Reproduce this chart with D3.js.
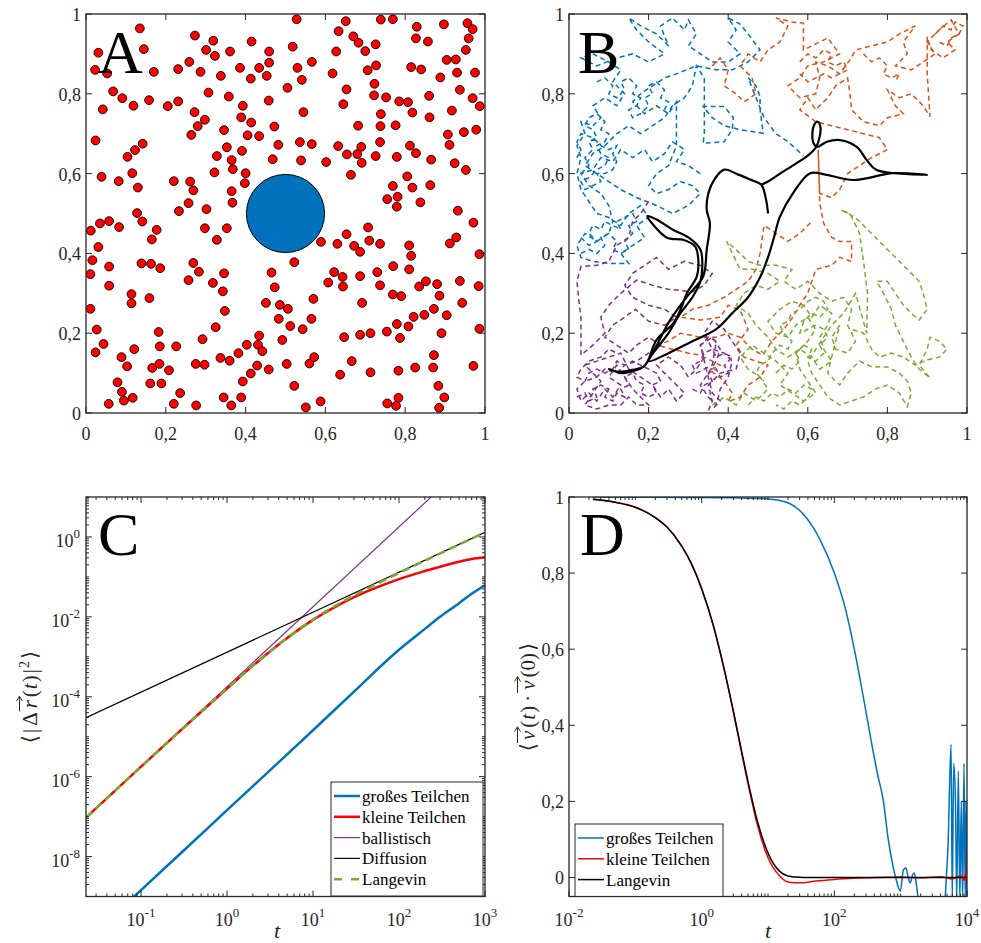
<!DOCTYPE html>
<html>
<head>
<meta charset="utf-8">
<script src="https://cdn.jsdelivr.net/npm/d3@7"></script>
<style>
  body { margin: 0; background: #fff; }
  svg { display: block; font-family: "Liberation Serif", "DejaVu Serif", serif; }
  text { font-family: "Liberation Serif", "DejaVu Serif", serif; fill: #262626; }
</style>
</head>
<body>
<svg id="fig" width="981" height="943" font-family="Liberation Serif, DejaVu Serif, serif"></svg>
<script>
// ---------------- panel A : particle positions ----------------
var smallParticles = [
[0.135,0.964],[0.273,0.946],[0.319,0.933],[0.415,0.931],[0.031,0.903],[0.145,0.912],[0.301,0.910],[0.323,0.895],[0.361,0.906],[0.459,0.906],[0.023,0.860],[0.053,0.851],[0.170,0.855],[0.231,0.862],[0.259,0.880],[0.287,0.855],[0.338,0.845],[0.386,0.865],[0.413,0.838],[0.434,0.865],[0.453,0.845],[0.459,0.878],[0.068,0.806],[0.091,0.789],[0.042,0.761],[0.119,0.770],[0.158,0.784],[0.205,0.769],[0.231,0.781],[0.307,0.803],[0.358,0.793],[0.393,0.770],[0.458,0.783],[0.272,0.754],[0.298,0.735],[0.280,0.719],[0.264,0.697],[0.346,0.709],[0.389,0.741],[0.414,0.728],[0.405,0.696],[0.434,0.694],[0.472,0.718],[0.024,0.683],[0.142,0.675],[0.123,0.659],[0.104,0.642],[0.353,0.666],[0.391,0.657],[0.482,0.672],[0.328,0.644],[0.365,0.634],[0.468,0.636],[0.368,0.611],[0.322,0.603],[0.400,0.601],[0.039,0.592],[0.082,0.581],[0.116,0.601],[0.130,0.565],[0.220,0.581],[0.261,0.580],[0.269,0.558],[0.365,0.556],[0.398,0.576],[0.367,0.527],[0.257,0.526],[0.302,0.511],[0.233,0.506],[0.128,0.501],
[0.012,0.457],[0.035,0.475],[0.058,0.481],[0.083,0.466],[0.141,0.480],[0.177,0.459],[0.165,0.435],[0.298,0.463],[0.353,0.463],[0.328,0.434],[0.031,0.416],[0.016,0.383],[0.011,0.348],[0.058,0.367],[0.139,0.375],[0.163,0.374],[0.186,0.363],[0.269,0.376],[0.283,0.354],[0.257,0.333],[0.318,0.326],[0.346,0.350],[0.343,0.305],[0.058,0.319],[0.114,0.298],[0.114,0.275],[0.159,0.288],[0.011,0.261],[0.348,0.256],[0.465,0.352],[0.473,0.315],[0.451,0.276],[0.486,0.271],[0.483,0.236],[0.027,0.209],[0.182,0.203],[0.325,0.215],[0.292,0.185],[0.434,0.194],[0.431,0.171],[0.442,0.155],[0.492,0.183],[0.403,0.171],[0.044,0.173],[0.024,0.152],[0.121,0.160],[0.185,0.167],[0.226,0.167],[0.089,0.140],[0.103,0.117],[0.166,0.113],[0.184,0.123],[0.208,0.107],[0.275,0.123],[0.297,0.121],[0.337,0.138],[0.360,0.131],[0.382,0.150],[0.429,0.119],[0.413,0.099],[0.458,0.109],[0.503,0.123],[0.393,0.079],[0.079,0.077],[0.090,0.053],[0.095,0.031],[0.117,0.038],[0.057,0.023],[0.161,0.074],[0.189,0.074],[0.236,0.050],[0.220,0.023],[0.276,0.019],[0.345,0.039],[0.364,0.019],[0.389,0.039],
[0.528,0.987],[0.651,0.982],[0.739,0.986],[0.769,0.987],[0.829,0.968],[0.897,0.974],[0.956,0.977],[0.969,0.962],[0.633,0.957],[0.670,0.944],[0.683,0.928],[0.726,0.924],[0.700,0.907],[0.827,0.939],[0.857,0.931],[0.959,0.939],[0.518,0.918],[0.627,0.906],[0.952,0.910],[0.566,0.880],[0.530,0.865],[0.727,0.871],[0.706,0.859],[0.618,0.851],[0.815,0.867],[0.840,0.861],[0.904,0.885],[0.927,0.886],[0.930,0.853],[0.975,0.853],[0.888,0.841],[0.541,0.835],[0.505,0.815],[0.653,0.811],[0.723,0.825],[0.937,0.810],[0.722,0.796],[0.752,0.791],[0.785,0.781],[0.807,0.779],[0.860,0.795],[0.969,0.789],[0.987,0.769],[0.645,0.774],[0.545,0.754],[0.739,0.749],[0.818,0.753],[0.861,0.741],[0.917,0.758],[0.682,0.720],[0.738,0.719],[0.776,0.721],[0.947,0.704],[0.978,0.710],[0.907,0.698],[0.911,0.672],[0.536,0.679],[0.566,0.674],[0.632,0.669],[0.690,0.667],[0.737,0.679],[0.812,0.670],[0.654,0.648],[0.680,0.649],[0.726,0.644],[0.827,0.651],[0.539,0.633],[0.602,0.629],[0.691,0.627],[0.779,0.642],[0.865,0.635],[0.924,0.626],[0.952,0.609],[0.664,0.597],[0.805,0.593],[0.769,0.569],[0.818,0.565],[0.863,0.571],[0.755,0.536],[0.781,0.542],[0.779,0.517],[0.838,0.528],[0.932,0.507],
[0.971,0.477],[0.707,0.465],[0.653,0.448],[0.710,0.432],[0.589,0.429],[0.630,0.424],[0.672,0.419],[0.687,0.404],[0.737,0.424],[0.810,0.420],[0.815,0.394],[0.912,0.425],[0.928,0.440],[0.986,0.398],[0.522,0.378],[0.622,0.353],[0.643,0.341],[0.644,0.317],[0.607,0.327],[0.687,0.343],[0.730,0.353],[0.737,0.320],[0.770,0.368],[0.810,0.360],[0.835,0.317],[0.852,0.330],[0.880,0.323],[0.937,0.331],[0.984,0.318],[0.769,0.297],[0.790,0.293],[0.886,0.294],[0.943,0.276],[0.570,0.286],[0.692,0.276],[0.506,0.261],[0.565,0.236],[0.512,0.218],[0.543,0.210],[0.821,0.241],[0.848,0.246],[0.872,0.261],[0.904,0.245],[0.779,0.223],[0.808,0.217],[0.787,0.188],[0.754,0.204],[0.713,0.200],[0.687,0.196],[0.647,0.190],[0.891,0.200],[0.986,0.211],[0.560,0.124],[0.572,0.140],[0.666,0.130],[0.637,0.096],[0.713,0.102],[0.783,0.106],[0.825,0.114],[0.870,0.114],[0.872,0.145],[0.971,0.118],[0.522,0.068],[0.883,0.068],[0.898,0.039],[0.885,0.013],[0.783,0.038],[0.755,0.024],[0.777,0.018],[0.588,0.029],[0.551,0.014]
];
var bigParticle = [0.5, 0.5];
var bigRadius = 0.098;

// ---------------- panel B : trajectories ----------------
var walkBlue = [[0.33,0.60],[0.30,0.62],[0.27,0.63],[0.29,0.66],[0.26,0.68],[0.24,0.65],[0.21,0.63],[0.19,0.66],[0.16,0.64],[0.13,0.66],[0.11,0.63],[0.08,0.64],[0.06,0.61],[0.03,0.60],[0.05,0.57],[0.08,0.55],[0.10,0.52],[0.11,0.48],[0.10,0.45],[0.07,0.43],[0.04,0.45],[0.02,0.42],[0.03,0.39],[0.06,0.38],[0.10,0.375],[0.15,0.375],[0.13,0.40],[0.16,0.42],[0.19,0.44],[0.17,0.47],[0.20,0.49],[0.18,0.52],[0.15,0.50],[0.13,0.47],[0.10,0.49],[0.07,0.50],[0.05,0.53],[0.03,0.56],[0.02,0.60],[0.03,0.64],[0.02,0.67],[0.04,0.70],[0.03,0.73],[0.06,0.72],[0.08,0.74],[0.06,0.77],[0.09,0.79],[0.12,0.77],[0.14,0.80],[0.11,0.83],[0.13,0.86],[0.10,0.88],[0.06,0.90],[0.03,0.89],[0.07,0.87],[0.12,0.89],[0.16,0.90],[0.20,0.88],[0.24,0.90],[0.20,0.93],[0.17,0.96],[0.15,0.99],[0.18,0.97],[0.22,0.95],[0.25,0.92],[0.23,0.97],[0.26,0.99],[0.29,0.96],[0.30,0.985],[0.32,0.95],[0.30,0.92],[0.33,0.90],[0.36,0.88],[0.40,0.88],[0.43,0.90],[0.40,0.93],[0.42,0.96],[0.40,0.99],[0.43,0.975],[0.45,0.95],[0.48,0.91],[0.45,0.88],[0.41,0.86],[0.37,0.86],[0.32,0.87],[0.27,0.85],[0.24,0.84],[0.21,0.82],[0.18,0.80],[0.16,0.78],[0.19,0.75],[0.22,0.77],[0.25,0.75],[0.27,0.78],[0.27,0.72],[0.27,0.67],[0.25,0.62],[0.22,0.60],[0.20,0.57],[0.22,0.55],[0.25,0.56],[0.28,0.58],[0.31,0.57],[0.33,0.55],[0.30,0.52],[0.26,0.50],[0.22,0.52],[0.17,0.54],[0.13,0.56],[0.10,0.58],[0.07,0.60],[0.04,0.62],[0.06,0.65],[0.09,0.67],[0.12,0.70],[0.15,0.72],[0.18,0.70],[0.21,0.72],[0.24,0.74],[0.26,0.77],[0.29,0.79],[0.31,0.82],[0.32,0.87],[0.34,0.84],[0.34,0.77],[0.34,0.70],[0.337,0.676],[0.39,0.68],[0.41,0.71],[0.413,0.74],[0.39,0.768],[0.337,0.768],[0.36,0.74],[0.39,0.72],[0.43,0.71],[0.488,0.701],[0.48,0.76],[0.48,0.793],[0.47,0.82],[0.45,0.84],[0.49,0.74],[0.52,0.70],[0.55,0.68],[0.589,0.645]];
var tangleBlue = [
  [[0.03,0.60],[0.05,0.62],[0.04,0.64],[0.06,0.66],[0.05,0.68],[0.07,0.69],[0.06,0.71],[0.04,0.72],[0.05,0.74],[0.07,0.75],[0.09,0.73],[0.08,0.71],[0.10,0.70],[0.09,0.68],[0.07,0.67],[0.08,0.65],[0.10,0.64],[0.09,0.62],[0.07,0.61],[0.05,0.59],[0.03,0.58],[0.04,0.56],[0.06,0.57],[0.08,0.58],[0.07,0.60],[0.09,0.60],[0.11,0.61],[0.12,0.63],[0.11,0.65],[0.12,0.67],[0.10,0.66],[0.08,0.67],[0.06,0.69],[0.03,0.70],[0.02,0.68],[0.03,0.66],[0.02,0.64]],
  [[0.07,0.83],[0.09,0.84],[0.11,0.82],[0.10,0.80],[0.12,0.79],[0.14,0.81],[0.13,0.83],[0.15,0.84],[0.17,0.82],[0.16,0.80],[0.18,0.79],[0.17,0.77],[0.15,0.76],[0.16,0.74],[0.18,0.75],[0.20,0.77],[0.19,0.79],[0.21,0.80],[0.20,0.82],[0.22,0.83],[0.24,0.81],[0.23,0.79],[0.25,0.78],[0.24,0.76]],
  [[0.03,0.40],[0.05,0.41],[0.07,0.40],[0.09,0.42],[0.08,0.44],[0.10,0.45],[0.12,0.43],[0.11,0.41],[0.13,0.40],[0.15,0.41],[0.14,0.43],[0.16,0.45],[0.15,0.47],[0.17,0.48],[0.16,0.50],[0.14,0.49],[0.12,0.48],[0.13,0.46],[0.11,0.47],[0.09,0.48],[0.08,0.46],[0.06,0.47],[0.05,0.45],[0.07,0.43],[0.05,0.42],[0.03,0.44]]
];
var walkOrange = [[0.36,0.87],[0.38,0.89],[0.40,0.86],[0.39,0.82],[0.42,0.80],[0.44,0.78],[0.47,0.80],[0.46,0.84],[0.43,0.87],[0.45,0.90],[0.48,0.88],[0.50,0.91],[0.53,0.93],[0.55,0.97],[0.52,0.99],[0.56,0.98],[0.589,0.977],[0.589,0.91],[0.61,0.92],[0.65,0.94],[0.68,0.90],[0.64,0.88],[0.60,0.87],[0.58,0.84],[0.55,0.82],[0.58,0.79],[0.62,0.80],[0.63,0.84],[0.62,0.88],[0.65,0.87],[0.68,0.85],[0.706,0.885],[0.72,0.91],[0.76,0.92],[0.80,0.93],[0.83,0.95],[0.87,0.97],[0.84,0.93],[0.85,0.90],[0.82,0.87],[0.86,0.86],[0.89,0.88],[0.92,0.90],[0.90,0.93],[0.93,0.96],[0.96,0.985],[0.98,0.95],[0.95,0.93],[0.97,0.91],[0.94,0.89],[0.91,0.91],[0.90,0.943],[0.90,0.85],[0.907,0.743],[0.89,0.77],[0.86,0.80],[0.83,0.79],[0.80,0.81],[0.82,0.77],[0.84,0.75],[0.80,0.74],[0.78,0.72],[0.74,0.73],[0.71,0.76],[0.706,0.80],[0.70,0.84],[0.67,0.82],[0.65,0.79],[0.62,0.76],[0.60,0.79],[0.58,0.76],[0.62,0.73],[0.66,0.72],[0.70,0.71],[0.74,0.70],[0.78,0.69],[0.80,0.66],[0.76,0.64],[0.73,0.62],[0.70,0.60],[0.68,0.56],[0.66,0.54],[0.63,0.55],[0.626,0.66],[0.63,0.526],[0.64,0.475],[0.66,0.44],[0.68,0.43],[0.71,0.43],[0.71,0.38],[0.68,0.39],[0.66,0.37],[0.62,0.36],[0.61,0.33],[0.60,0.30],[0.58,0.27],[0.563,0.241],[0.54,0.21],[0.51,0.18],[0.487,0.145],[0.46,0.16],[0.43,0.19],[0.40,0.20],[0.37,0.19],[0.33,0.19],[0.28,0.20],[0.25,0.18],[0.22,0.17],[0.26,0.16],[0.30,0.15],[0.33,0.145],[0.36,0.13],[0.38,0.12],[0.354,0.108],[0.39,0.08],[0.41,0.05],[0.40,0.028],[0.43,0.04],[0.45,0.07],[0.48,0.09],[0.50,0.12],[0.47,0.13],[0.44,0.14],[0.42,0.17],[0.45,0.21],[0.43,0.258],[0.40,0.27],[0.38,0.24],[0.33,0.233],[0.28,0.24],[0.31,0.26],[0.35,0.27],[0.39,0.29],[0.42,0.31],[0.45,0.33],[0.47,0.36],[0.48,0.40],[0.49,0.47],[0.52,0.45],[0.55,0.43],[0.58,0.45],[0.61,0.48]];
var tangleOrange = [
  [[0.58,0.88],[0.60,0.90],[0.62,0.89],[0.64,0.91],[0.66,0.90],[0.65,0.88],[0.67,0.87],[0.69,0.88],[0.70,0.86],[0.68,0.85],[0.66,0.84],[0.64,0.85],[0.62,0.84],[0.60,0.83],[0.58,0.85]],
  [[0.92,0.95],[0.94,0.97],[0.96,0.96],[0.97,0.98],[0.99,0.97],[0.98,0.95],[0.96,0.94],[0.95,0.92],[0.93,0.93]],
  [[0.74,0.90],[0.76,0.88],[0.78,0.89],[0.80,0.87],[0.79,0.85],[0.81,0.84],[0.83,0.85],[0.82,0.83]]
];
var walkPurple = [[0.20,0.53],[0.18,0.50],[0.16,0.48],[0.15,0.44],[0.12,0.42],[0.10,0.38],[0.07,0.37],[0.03,0.367],[0.02,0.33],[0.025,0.28],[0.03,0.24],[0.03,0.19],[0.03,0.145],[0.06,0.17],[0.09,0.20],[0.08,0.24],[0.10,0.27],[0.13,0.30],[0.17,0.333],[0.21,0.32],[0.25,0.31],[0.31,0.304],[0.34,0.32],[0.36,0.35],[0.33,0.37],[0.29,0.38],[0.25,0.36],[0.22,0.39],[0.19,0.37],[0.16,0.35],[0.14,0.32],[0.16,0.29],[0.20,0.27],[0.24,0.26],[0.27,0.24],[0.24,0.22],[0.20,0.23],[0.167,0.26],[0.14,0.24],[0.11,0.22],[0.09,0.19],[0.12,0.17],[0.15,0.15],[0.17,0.17],[0.20,0.19],[0.23,0.17],[0.20,0.15],[0.17,0.13],[0.14,0.12],[0.12,0.10],[0.09,0.11],[0.07,0.09],[0.04,0.08],[0.02,0.06],[0.03,0.03],[0.05,0.05],[0.07,0.03],[0.09,0.06],[0.11,0.04],[0.13,0.07],[0.10,0.09],[0.12,0.12],[0.14,0.09],[0.16,0.06],[0.18,0.04],[0.20,0.02],[0.17,0.02],[0.15,0.04],[0.13,0.02],[0.10,0.02],[0.07,0.01],[0.04,0.02],[0.06,0.05],[0.08,0.08],[0.06,0.10],[0.04,0.12],[0.07,0.13],[0.10,0.14],[0.13,0.15],[0.15,0.11],[0.18,0.09],[0.21,0.07],[0.23,0.04],[0.25,0.06],[0.27,0.03],[0.29,0.05],[0.26,0.08],[0.24,0.10],[0.22,0.12],[0.25,0.14],[0.28,0.12],[0.30,0.09],[0.32,0.11],[0.34,0.14],[0.33,0.17],[0.36,0.19],[0.38,0.16],[0.37,0.13],[0.35,0.10],[0.33,0.07],[0.35,0.04],[0.37,0.02],[0.38,0.06],[0.40,0.09],[0.41,0.13],[0.39,0.15],[0.36,0.16],[0.34,0.20],[0.36,0.23],[0.39,0.21],[0.41,0.18],[0.43,0.15],[0.42,0.11],[0.38,0.10],[0.35,0.07],[0.36,0.03],[0.35,0.005]];
var tanglePurple = [
  [[0.02,0.04],[0.04,0.05],[0.05,0.03],[0.07,0.04],[0.06,0.06],[0.08,0.07],[0.10,0.06],[0.09,0.04],[0.11,0.03],[0.12,0.05],[0.14,0.04],[0.13,0.06],[0.15,0.07],[0.14,0.09],[0.16,0.10],[0.17,0.08],[0.19,0.07],[0.18,0.05],[0.20,0.04],[0.22,0.05],[0.21,0.07],[0.23,0.08],[0.22,0.10],[0.20,0.11],[0.18,0.12],[0.16,0.13],[0.14,0.12],[0.12,0.13],[0.11,0.11],[0.09,0.10],[0.07,0.11],[0.05,0.10],[0.04,0.08],[0.02,0.09],[0.03,0.11],[0.05,0.13],[0.08,0.14],[0.10,0.16],[0.12,0.15]],
  [[0.31,0.06],[0.33,0.05],[0.34,0.07],[0.36,0.08],[0.35,0.10],[0.37,0.11],[0.38,0.09],[0.40,0.10],[0.39,0.12],[0.41,0.14],[0.39,0.15],[0.37,0.14],[0.36,0.16],[0.34,0.15],[0.33,0.13],[0.31,0.12],[0.32,0.10],[0.34,0.11],[0.36,0.12],[0.37,0.18],[0.35,0.19],[0.33,0.17],[0.36,0.05],[0.38,0.03],[0.36,0.01]]
];
var walkGreen = [[0.36,0.02],[0.39,0.04],[0.42,0.02],[0.44,0.05],[0.47,0.03],[0.50,0.06],[0.48,0.09],[0.45,0.11],[0.43,0.14],[0.46,0.17],[0.49,0.15],[0.52,0.13],[0.55,0.10],[0.53,0.07],[0.56,0.05],[0.59,0.03],[0.62,0.05],[0.60,0.08],[0.58,0.11],[0.57,0.15],[0.60,0.18],[0.62,0.21],[0.60,0.24],[0.57,0.22],[0.55,0.19],[0.52,0.20],[0.50,0.23],[0.53,0.26],[0.56,0.28],[0.59,0.27],[0.61,0.24],[0.63,0.27],[0.66,0.25],[0.65,0.22],[0.63,0.19],[0.64,0.16],[0.66,0.13],[0.63,0.11],[0.61,0.14],[0.58,0.16],[0.55,0.14],[0.52,0.16],[0.50,0.19],[0.47,0.22],[0.45,0.25],[0.42,0.27],[0.44,0.30],[0.47,0.32],[0.50,0.31],[0.53,0.33],[0.50,0.35],[0.46,0.36],[0.43,0.36],[0.396,0.43],[0.43,0.40],[0.45,0.38],[0.48,0.37],[0.52,0.37],[0.56,0.36],[0.54,0.33],[0.57,0.31],[0.60,0.33],[0.63,0.30],[0.66,0.28],[0.69,0.29],[0.71,0.26],[0.70,0.22],[0.72,0.18],[0.70,0.15],[0.67,0.16],[0.66,0.19],[0.68,0.22],[0.65,0.10],[0.68,0.07],[0.70,0.10],[0.73,0.13],[0.76,0.116],[0.80,0.115],[0.83,0.10],[0.85,0.08],[0.86,0.05],[0.85,0.016],[0.83,0.05],[0.80,0.07],[0.77,0.06],[0.74,0.04],[0.71,0.03],[0.68,0.02],[0.65,0.04],[0.63,0.07],[0.61,0.10],[0.60,0.13],[0.62,0.16],[0.64,0.19],[0.66,0.22],[0.69,0.25],[0.72,0.30],[0.748,0.20],[0.75,0.30],[0.74,0.38],[0.73,0.45],[0.706,0.50],[0.683,0.509],[0.72,0.49],[0.76,0.45],[0.80,0.41],[0.84,0.37],[0.88,0.33],[0.89,0.30],[0.90,0.26],[0.88,0.233],[0.86,0.25],[0.84,0.27],[0.82,0.30],[0.80,0.33],[0.773,0.33],[0.79,0.30],[0.81,0.26],[0.82,0.22],[0.84,0.18],[0.86,0.14],[0.88,0.11],[0.907,0.088],[0.88,0.12],[0.90,0.16],[0.907,0.19],[0.93,0.18],[0.95,0.16],[0.93,0.14],[0.90,0.133],[0.87,0.12],[0.84,0.14],[0.81,0.15],[0.78,0.14],[0.76,0.16],[0.74,0.20],[0.71,0.21]];
var tangleGreen = [
  [[0.52,0.10],[0.54,0.12],[0.56,0.11],[0.58,0.13],[0.57,0.15],[0.59,0.17],[0.61,0.16],[0.60,0.14],[0.62,0.13],[0.64,0.15],[0.63,0.17],[0.65,0.19],[0.64,0.21],[0.62,0.22],[0.60,0.21],[0.58,0.20],[0.59,0.23],[0.61,0.25],[0.63,0.24],[0.65,0.26],[0.64,0.28],[0.62,0.29],[0.60,0.28],[0.58,0.26],[0.56,0.25],[0.55,0.23],[0.53,0.22],[0.54,0.20],[0.56,0.18],[0.55,0.16],[0.53,0.17],[0.51,0.15],[0.50,0.13],[0.48,0.12],[0.47,0.10],[0.49,0.08]],
  [[0.45,0.02],[0.47,0.04],[0.49,0.03],[0.51,0.05],[0.53,0.04],[0.55,0.06],[0.57,0.05],[0.59,0.07],[0.61,0.06],[0.60,0.04],[0.58,0.02],[0.56,0.03],[0.54,0.01],[0.52,0.02]]
];
var bigTrack = [[0.50,0.50],[0.495,0.535],[0.483,0.572],[0.455,0.585],[0.42,0.60],[0.39,0.61],[0.365,0.585],[0.35,0.55],[0.346,0.509],[0.354,0.476],[0.346,0.409],[0.337,0.342],[0.296,0.291],[0.254,0.233],[0.187,0.116],[0.16,0.105],[0.13,0.10],[0.115,0.105],[0.10,0.11],[0.125,0.103],[0.16,0.108],[0.19,0.118],[0.22,0.183],[0.262,0.225],[0.283,0.266],[0.296,0.30],[0.321,0.342],[0.325,0.383],[0.317,0.417],[0.287,0.434],[0.245,0.44],[0.197,0.494],[0.22,0.485],[0.26,0.46],[0.30,0.44],[0.33,0.41],[0.335,0.37],[0.33,0.33],[0.31,0.29],[0.28,0.25],[0.25,0.20],[0.20,0.13],[0.25,0.15],[0.31,0.18],[0.37,0.21],[0.41,0.25],[0.45,0.29],[0.48,0.34],[0.50,0.39],[0.515,0.44],[0.53,0.492],[0.563,0.551],[0.606,0.601],[0.647,0.597],[0.714,0.584],[0.815,0.601],[0.899,0.597],[0.773,0.609],[0.748,0.634],[0.723,0.667],[0.681,0.684],[0.648,0.68],[0.623,0.667],[0.613,0.68],[0.615,0.72],[0.625,0.73],[0.632,0.715],[0.628,0.685],[0.62,0.665],[0.60,0.645],[0.57,0.625],[0.53,0.60],[0.50,0.58],[0.483,0.572]];

// ---------------- panel C : mean squared displacement ----------------
var msdBigT   = [0.083, 0.1, 0.3, 1, 3, 10, 30, 100, 200, 300, 500, 700, 1000];
var msdBig    = [1e-9, 1.45e-9, 1.3e-8, 1.45e-7, 1.3e-6, 1.45e-5, 1.35e-4, 1.5e-3, 5.0e-3, 0.010, 0.022, 0.038, 0.062];
var msdSmallT = [0.0229, 0.1, 0.3, 1, 2, 3, 5, 7, 10, 20, 30, 50, 100, 200, 300, 500, 700, 1000];
var msdSmall  = [9.4e-8, 1.78e-6, 1.55e-5, 1.6e-4, 6.0e-4, 1.25e-3, 2.95e-3, 5.0e-3, 8.4e-3, 0.02, 0.031, 0.05, 0.088, 0.14, 0.18, 0.24, 0.28, 0.31];
var msdLangT  = [0.0229, 0.1, 0.3, 1, 2, 3, 5, 7, 10, 20, 30, 50, 100, 300, 1000];
var msdLang   = [9.4e-8, 1.78e-6, 1.55e-5, 1.64e-4, 6.0e-4, 1.25e-3, 2.97e-3, 5.07e-3, 8.58e-3, 0.0213, 0.0343, 0.0603, 0.125, 0.385, 1.3];
var ballT = [0.0229, 240];
var ball  = [9.4e-8, 10.3];
var diffT = [0.0229, 1000];
var diff  = [2.98e-5, 1.3];

// ---------------- panel D : velocity autocorrelation ----------------
var vacfLangT  = [0.0229, 0.05, 0.1, 0.2, 0.3, 0.5, 0.7, 1, 1.5, 2, 3, 4, 5, 7, 10, 15, 20, 30, 50, 10000];
var vacfLang   = [0.994, 0.986, 0.973, 0.946, 0.921, 0.871, 0.825, 0.759, 0.662, 0.576, 0.438, 0.332, 0.252, 0.145, 0.064, 0.016, 0.004, 0.0003, 0, 0];
var vacfSmallT = [0.0229, 0.05, 0.1, 0.2, 0.3, 0.5, 0.7, 1, 1.5, 2, 3, 4, 5, 7, 10, 15, 20, 25, 30, 50, 100, 200, 500, 1000, 2000, 4000, 6000, 8000, 9000, 9500, 9800, 10000];
var vacfSmall  = [0.994, 0.986, 0.973, 0.946, 0.921, 0.871, 0.825, 0.759, 0.662, 0.576, 0.436, 0.328, 0.246, 0.135, 0.052, 0.004, -0.012, -0.014, -0.014, -0.01, -0.005, -0.002, 0, 0.001, -0.001, 0.002, -0.004, 0.005, -0.008, 0.01, -0.012, 0.065];
var vacfBigT = [0.0229, 1, 3, 10, 20, 36, 60, 100, 150, 200, 270, 350, 450, 550, 650, 770, 870, 990, 1100, 1200, 1300, 1400, 1500, 1600, 1700, 1850, 2100, 4500, 4700, 5200, 5750, 6000, 6300, 6700, 7000, 7400, 7800, 8200, 8600, 9000, 9400, 9700, 10000];
var vacfBig  = [1, 0.999, 0.998, 0.995, 0.985, 0.95, 0.89, 0.8, 0.7, 0.6, 0.48, 0.37, 0.27, 0.2, 0.1, 0.028, -0.01, -0.036, 0.02, 0.025, 0, -0.014, 0.005, 0.012, -0.01, -0.06, -0.1, -0.1, -0.05, 0.095, 0.35, -0.06, 0.3, 0.2, -0.06, 0.28, -0.06, 0.2, -0.06, 0.3, -0.06, 0.2, -0.06];

// ---------------- helpers ----------------
var svg = d3.select("#fig");
var ink = "#262626";
var serif = "Liberation Serif, DejaVu Serif, serif";
var tickFont = 18;
var clipCount = 0;

function makePanel(L, R, T, B, x, y) {
  clipCount++;
  svg.append("clipPath").attr("id", "clip" + clipCount)
    .append("rect").attr("x", L).attr("y", T).attr("width", R - L).attr("height", B - T);
  var plot = svg.append("g").attr("clip-path", "url(#clip" + clipCount + ")");
  var axes = svg.append("g");
  return { L: L, R: R, T: T, B: B, x: x, y: y, plot: plot, axes: axes };
}

function drawTicks(p, xMajor, xMinor, yMajor, yMinor) {
  var a = p.axes;
  function xt(list, len) {
    list.forEach(function(v) {
      var px = p.x(v);
      a.append("line").attr("x1", px).attr("x2", px).attr("y1", p.B).attr("y2", p.B - len).attr("stroke", ink);
      a.append("line").attr("x1", px).attr("x2", px).attr("y1", p.T).attr("y2", p.T + len).attr("stroke", ink);
    });
  }
  function yt(list, len) {
    list.forEach(function(v) {
      var py = p.y(v);
      a.append("line").attr("y1", py).attr("y2", py).attr("x1", p.L).attr("x2", p.L + len).attr("stroke", ink);
      a.append("line").attr("y1", py).attr("y2", py).attr("x1", p.R).attr("x2", p.R - len).attr("stroke", ink);
    });
  }
  xt(xMajor, 6); xt(xMinor, 3); yt(yMajor, 6); yt(yMinor, 3);
  a.append("rect").attr("x", p.L).attr("y", p.T).attr("width", p.R - p.L).attr("height", p.B - p.T)
    .attr("fill", "none").attr("stroke", ink).attr("stroke-width", 1.3);
}

function commaFmt(v) { return String(+v.toFixed(1)).replace(".", ","); }

function txt(g) { return g.append("text").attr("font-family", serif); }

function linLabels(p, xs, ys) {
  xs.forEach(function(v) {
    txt(p.axes).attr("x", p.x(v)).attr("y", p.B + 27).attr("text-anchor", "middle")
      .attr("font-size", tickFont).text(commaFmt(v));
  });
  ys.forEach(function(v) {
    txt(p.axes).attr("x", p.L - 5).attr("y", p.y(v) + 7).attr("text-anchor", "end")
      .attr("font-size", tickFont).text(commaFmt(v));
  });
}

function powLabel(g, x, y, anchor, e) {
  var t = txt(g).attr("x", x).attr("y", y).attr("text-anchor", anchor).attr("font-size", tickFont);
  t.append("tspan").text("10");
  t.append("tspan").attr("dy", -9).attr("font-size", 13).text(e);
}

function letter(x, y, s) {
  txt(svg).attr("x", x).attr("y", y).attr("font-size", 62).style("fill", "#000").text(s);
}

function zipXY(t, v) { return t.map(function(d, i) { return [d, v[i]]; }); }

// ---------------- panel A ----------------
var xA = d3.scaleLinear().domain([0, 1]).range([86, 485]);
var yA = d3.scaleLinear().domain([0, 1]).range([413, 14]);
var pA = makePanel(86, 485, 14, 413, xA, yA);
pA.plot.selectAll("circle.small").data(smallParticles).enter().append("circle")
  .attr("class", "small")
  .attr("cx", function(d) { return xA(d[0]); })
  .attr("cy", function(d) { return yA(d[1]); })
  .attr("r", 4.4).attr("fill", "#FF0000").attr("stroke", "#000").attr("stroke-width", 0.9);
pA.plot.append("circle").attr("cx", xA(bigParticle[0])).attr("cy", yA(bigParticle[1]))
  .attr("r", xA(bigRadius) - xA(0)).attr("fill", "#0072BD").attr("stroke", "#000").attr("stroke-width", 1);
var linTicks = [0, 0.2, 0.4, 0.6, 0.8, 1];
drawTicks(pA, linTicks, [], linTicks, []);
linLabels(pA, linTicks, linTicks);
letter(98, 73, "A");

// ---------------- panel B ----------------
var xB = d3.scaleLinear().domain([0, 1]).range([569, 967]);
var yB = d3.scaleLinear().domain([0, 1]).range([413, 14]);
var pB = makePanel(569, 967, 14, 413, xB, yB);
var walkLine = d3.line().x(function(d) { return xB(d[0]); }).y(function(d) { return yB(d[1]); });
function dashed(pts, col) {
  pB.plot.append("path").datum(pts).attr("d", walkLine).attr("fill", "none")
    .attr("stroke", col).attr("stroke-width", 1.5).attr("stroke-dasharray", "5,3.5");
}
dashed(walkBlue, "#0072BD"); tangleBlue.forEach(function(t) { dashed(t, "#0072BD"); });
dashed(walkOrange, "#D95319"); tangleOrange.forEach(function(t) { dashed(t, "#D95319"); });
dashed(walkPurple, "#7E2F8E"); tanglePurple.forEach(function(t) { dashed(t, "#7E2F8E"); });
dashed(walkGreen, "#77AC30"); tangleGreen.forEach(function(t) { dashed(t, "#77AC30"); });
pB.plot.append("path").datum(bigTrack)
  .attr("d", d3.line().x(function(d) { return xB(d[0]); }).y(function(d) { return yB(d[1]); }).curve(d3.curveCatmullRom.alpha(0.5)))
  .attr("fill", "none").attr("stroke", "#000").attr("stroke-width", 2.2).attr("stroke-linejoin", "round");
drawTicks(pB, linTicks, [], linTicks, []);
linLabels(pB, linTicks, linTicks);
letter(578, 73, "B");

// ---------------- panel C ----------------
var xC = d3.scaleLog().domain([0.0229, 1000]).range([86, 485]);
var yC = d3.scaleLog().domain([1e-9, 10]).range([896.5, 497]);
var pC = makePanel(86, 485, 497, 896.5, xC, yC);
var lineC = d3.line().x(function(d) { return xC(d[0]); }).y(function(d) { return yC(d[1]); }).curve(d3.curveMonotoneX);
pC.plot.append("path").datum(zipXY(ballT, ball)).attr("d", lineC).attr("fill", "none").attr("stroke", "#7E2F8E").attr("stroke-width", 1.2);
pC.plot.append("path").datum(zipXY(diffT, diff)).attr("d", lineC).attr("fill", "none").attr("stroke", "#000").attr("stroke-width", 1.2);
pC.plot.append("path").datum(zipXY(msdBigT, msdBig)).attr("d", lineC).attr("fill", "none").attr("stroke", "#0072BD").attr("stroke-width", 2.5);
pC.plot.append("path").datum(zipXY(msdSmallT, msdSmall)).attr("d", lineC).attr("fill", "none").attr("stroke", "#FF0000").attr("stroke-width", 2.5);
pC.plot.append("path").datum(zipXY(msdLangT, msdLang)).attr("d", lineC).attr("fill", "none").attr("stroke", "#77AC30").attr("stroke-width", 2.5).attr("stroke-dasharray", "8,5");
var cxMaj = [0.1, 1, 10, 100, 1000];
var cxMin = [];
[-2, -1, 0, 1, 2].forEach(function(k) { for (var m = 2; m <= 9; m++) { var v = m * Math.pow(10, k); if (v >= 0.0229 && v <= 1000) cxMin.push(v); } });
var cyMaj = [1e-8, 1e-6, 1e-4, 1e-2, 1];
var cyMin = [];
for (var k = -9; k <= 0; k++) { for (var m = 1; m <= 9; m++) { var v = m * Math.pow(10, k); if ((m > 1 || k % 2 !== 0) && v <= 10) cyMin.push(v); } }
cyMin.push(10);
drawTicks(pC, cxMaj, cxMin, cyMaj, cyMin);
cxMaj.forEach(function(v) { powLabel(pC.axes, xC(v), 926, "middle", String(Math.round(Math.log10(v)))); });
cyMaj.forEach(function(v) { powLabel(pC.axes, 80, yC(v) + 10, "end", String(Math.round(Math.log10(v)))); });
letter(98, 555, "C");

// ---------------- panel D ----------------
var xD = d3.scaleLog().domain([0.01, 10000]).range([569, 967]);
var yD = d3.scaleLinear().domain([-0.05, 1]).range([896.5, 497]);
var pD = makePanel(569, 967, 497, 896.5, xD, yD);
var lineD = d3.line().x(function(d) { return xD(d[0]); }).y(function(d) { return yD(d[1]); }).curve(d3.curveMonotoneX);
pD.plot.append("path").datum(zipXY(vacfBigT, vacfBig)).attr("d", lineD).attr("fill", "none").attr("stroke", "#0072BD").attr("stroke-width", 1.5);
pD.plot.append("path").datum(zipXY(vacfSmallT, vacfSmall)).attr("d", lineD).attr("fill", "none").attr("stroke", "#FF0000").attr("stroke-width", 1.5);
pD.plot.append("path").datum(zipXY(vacfLangT, vacfLang)).attr("d", lineD).attr("fill", "none").attr("stroke", "#000").attr("stroke-width", 1.5);
var dxMaj = [0.01, 1, 100, 10000];
var dxMin = [];
for (var k2 = -2; k2 <= 3; k2++) { for (var m2 = 1; m2 <= 9; m2++) { var v2 = m2 * Math.pow(10, k2); if (m2 > 1 || k2 % 2 !== 0) dxMin.push(v2); } }
drawTicks(pD, dxMaj, dxMin, linTicks, []);
dxMaj.forEach(function(v) { powLabel(pD.axes, xD(v), 926, "middle", String(Math.round(Math.log10(v)))); });
linTicks.forEach(function(v) {
  txt(pD.axes).attr("x", 564).attr("y", yD(v) + 7).attr("text-anchor", "end").attr("font-size", tickFont).text(commaFmt(v));
});
letter(580, 555, "D");

// ---------------- axis titles ----------------
function tLabel(x) {
  txt(svg).attr("x", x).attr("y", 938).attr("text-anchor", "middle").attr("font-size", 22)
    .style("font-style", "italic").text("t");
}
tLabel(277); tLabel(768);

// rotated math label built from pieces, arrow drawn over vector symbols
function mathLabel(cx, cy, fs, pieces) {
  var g = svg.append("g").attr("transform", "translate(" + cx + "," + cy + ") rotate(-90)");
  var inner = g.append("g");
  var pos = 0;
  pieces.forEach(function(pc) {
    var size = pc.sup ? fs * 0.68 : fs;
    var t = txt(inner).attr("x", pos).attr("y", pc.sup ? -fs * 0.42 : 0).attr("font-size", size).text(pc.s);
    if (pc.it) t.style("font-style", "italic");
    var w = t.node().getComputedTextLength();
    if (pc.arrow) {
      var ay = -fs * 0.85;
      inner.append("line").attr("x1", pos - 3).attr("x2", pos + w + 3).attr("y1", ay).attr("y2", ay)
        .attr("stroke", ink).attr("stroke-width", 1);
      inner.append("path").attr("d", "M" + (pos + w + 4) + "," + ay + " l-5,-3 M" + (pos + w + 4) + "," + ay + " l-5,3")
        .attr("stroke", ink).attr("stroke-width", 1).attr("fill", "none");
    }
    pos += w + (pc.gap || 0);
  });
  inner.attr("transform", "translate(" + (-pos / 2) + "," + (fs * 0.35) + ")");
}
mathLabel(30, 697, 21, [
  { s: "\u27E8", gap: 2 }, { s: "|", gap: 3 }, { s: "\u0394", gap: 4 }, { s: "r", it: true, arrow: true, gap: 3 },
  { s: "(", gap: 1 }, { s: "t", it: true, gap: 1 }, { s: ")", gap: 2 }, { s: "|", gap: 1 },
  { s: "2", sup: true, gap: 2 }, { s: "\u27E9" }
]);
mathLabel(528, 697, 21, [
  { s: "\u27E8", gap: 3 }, { s: "v", it: true, arrow: true, gap: 3 }, { s: "(", gap: 1 }, { s: "t", it: true, gap: 1 }, { s: ")", gap: 4 },
  { s: "\u00B7", gap: 5 }, { s: "v", it: true, arrow: true, gap: 3 }, { s: "(0)", gap: 2 }, { s: "\u27E9" }
]);

// ---------------- legends ----------------
function legend(x, y, w, rowH, items) {
  var g = svg.append("g");
  g.append("rect").attr("x", x).attr("y", y).attr("width", w).attr("height", rowH * items.length + 10)
    .attr("fill", "#fff").attr("stroke", ink).attr("stroke-width", 1);
  items.forEach(function(it, i) {
    var cy = y + 14 + i * rowH;
    var ln = g.append("line").attr("x1", x + 3).attr("x2", x + 29).attr("y1", cy).attr("y2", cy)
      .attr("stroke", it.c).attr("stroke-width", it.w);
    if (it.dash) ln.attr("stroke-dasharray", "8,9");
    txt(g).attr("x", x + 31).attr("y", cy + 6).attr("font-size", 17).style("fill", "#000").text(it.n);
  });
}
legend(331, 782, 152, 20.8, [
  { n: "großes Teilchen", c: "#0072BD", w: 2.5 },
  { n: "kleine Teilchen", c: "#FF0000", w: 2.5 },
  { n: "ballistisch", c: "#7E2F8E", w: 1.2 },
  { n: "Diffusion", c: "#000", w: 1.2 },
  { n: "Langevin", c: "#77AC30", w: 2.5, dash: true }
]);
legend(575, 824, 148, 20.8, [
  { n: "großes Teilchen", c: "#0072BD", w: 1.5 },
  { n: "kleine Teilchen", c: "#FF0000", w: 1.5 },
  { n: "Langevin", c: "#000", w: 1.5 }
]);
</script>
</body>
</html>
